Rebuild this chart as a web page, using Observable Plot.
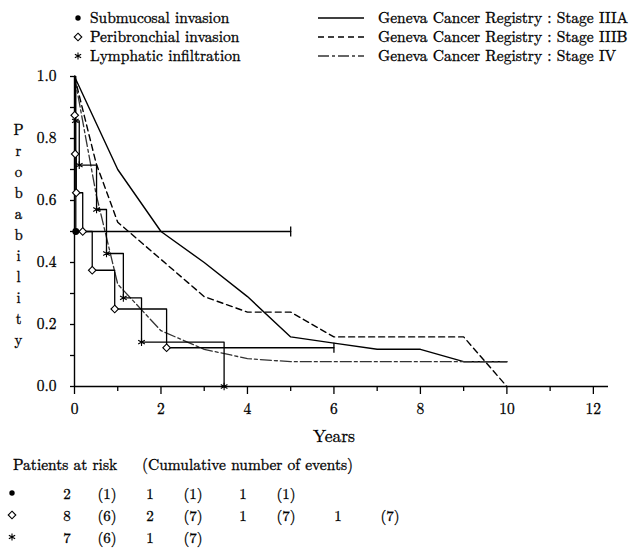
<!DOCTYPE html>
<html><head><meta charset="utf-8">
<script src="https://cdn.jsdelivr.net/npm/d3@7"></script>
<script src="https://cdn.jsdelivr.net/npm/@observablehq/plot@0.6"></script>
<style>
body{margin:0;background:#fff;font-family:"Latin Modern Roman","Liberation Serif",serif;color:#000;}
#wrap{position:relative;width:631px;height:548px;overflow:hidden;}
.t{position:absolute;white-space:nowrap;line-height:1;font-family:"Latin Modern Roman","Liberation Serif",serif;-webkit-text-stroke:0.3px #000;}
#chart{position:absolute;left:0;top:40px;}
#chart text{stroke:#000;stroke-width:0.3px;}
</style></head><body><div id="wrap"><div id="chart"></div></div>
<script>
// ---------- data ----------
const kmLabels = ["Submucosal invasion", "Peribronchial invasion", "Lymphatic infiltration"];
const genevaLabels = ["Geneva Cancer Registry : Stage IIIA", "Geneva Cancer Registry : Stage IIIB", "Geneva Cancer Registry : Stage IV"];

const iiiaYears = [0, 1, 2, 3, 4, 5, 6, 7, 8, 9, 10];
const iiiaProb  = [1.00, 0.70, 0.50, 0.40, 0.29, 0.16, 0.14, 0.12, 0.12, 0.08, 0.08];
const iiibYears = [0, 0.5, 1, 2, 3, 4, 5, 6, 7, 8, 9, 10];
const iiibProb  = [1.00, 0.72, 0.53, 0.41, 0.29, 0.24, 0.24, 0.16, 0.16, 0.16, 0.16, 0.00];
const ivYears   = [0, 0.5, 1, 2, 3, 4, 5, 6, 7, 8, 9, 10];
const ivProb    = [1.00, 0.62, 0.33, 0.18, 0.12, 0.09, 0.08, 0.08, 0.08, 0.08, 0.08, 0.08];

const subTimes   = [0, 0.03, 5];
const subSurv    = [1, 0.5, 0.5];
const periTimes  = [0, 0.005, 0.015, 0.04, 0.19, 0.41, 0.93, 2.13, 6];
const periSurv   = [1, 0.875, 0.75, 0.625, 0.5, 0.375, 0.25, 0.125, 0.125];
const lymphTimes = [0, 0.02, 0.11, 0.51, 0.74, 1.13, 1.55, 3.46];
const lymphSurv  = [1, 0.857, 0.714, 0.571, 0.429, 0.286, 0.143, 0];
const subCensor  = [5];
const periCensor = [6];

const yTicksMajor = [0, 0.2, 0.4, 0.6, 0.8, 1.0];
const yTicksMinor = [0.1, 0.3, 0.5, 0.7, 0.9];
const xTicksMajor = [0, 2, 4, 6, 8, 10, 12];
const xTicksMinor = [1, 3, 5, 7, 9, 11];
const yLabel = "Probability";
const xLabel = "Years";

const riskHeader = ["Patients at risk", "(Cumulative number of events)"];
const riskSub   = ["2", "(1)", "1", "(1)", "1", "(1)"];
const riskPeri  = ["8", "(6)", "2", "(7)", "1", "(7)", "1", "(7)"];
const riskLymph = ["7", "(6)", "1", "(7)"];

// ---------- helpers ----------
const FONT = "'Latin Modern Roman', 'Liberation Serif', serif";
const pts = (xs, ys) => xs.map((x, i) => ({x, y: ys[i]}));
const iiia = pts(iiiaYears, iiiaProb), iiib = pts(iiibYears, iiibProb), iv = pts(ivYears, ivProb);
const sub = pts(subTimes, subSurv), peri = pts(periTimes, periSurv), lymph = pts(lymphTimes, lymphSurv);
const subEv = sub.slice(1, 2);
const periEv = peri.slice(1, peri.length - 1);
const lymphEv = lymph.slice(1);
const censorPts = [
  ...subCensor.map(t => ({x: t, y: subSurv[subSurv.length - 1]})),
  ...periCensor.map(t => ({x: t, y: periSurv[periSurv.length - 1]}))
];
const censorSymbol = {draw(ctx, size) { const r = Math.sqrt(size / Math.PI); ctx.moveTo(0, -r); ctx.lineTo(0, r); }};

const DASH_B = "6,4";
const DASH_IV = "11,3,3,3";
const fmt = d3.format(".1f");

const chart = Plot.plot({
  width: 631, height: 413,
  marginTop: 36, marginBottom: 67, marginLeft: 74, marginRight: 23,
  style: {fontFamily: FONT, fontSize: "15.5px", color: "#000", background: "transparent"},
  x: {domain: [0, 12.35], axis: null},
  y: {domain: [0, 1], axis: null},
  marks: [
    Plot.axisY(yTicksMajor, {tickSize: 4, tickPadding: 14, tickFormat: fmt, label: null, fontSize: 15.5, strokeWidth: 1.3}),
    Plot.axisY(yTicksMinor, {tickSize: 4, fill: "none", label: null, strokeWidth: 1.3}),
    Plot.axisX(xTicksMajor, {tickSize: 8, tickPadding: 8, label: null, fontSize: 15.5, strokeWidth: 1.3}),
    Plot.axisX(xTicksMinor, {tickSize: 5, fill: "none", label: null, strokeWidth: 1.3}),
    Plot.ruleY([0], {strokeWidth: 1.4}),
    Plot.ruleX([0], {strokeWidth: 1.4}),
    Plot.line(iiia, {x: "x", y: "y", stroke: "#000", strokeWidth: 1.4}),
    Plot.line(iiib, {x: "x", y: "y", stroke: "#000", strokeWidth: 1.4, strokeDasharray: DASH_B}),
    Plot.line(iv, {x: "x", y: "y", stroke: "#333", strokeWidth: 1.3, strokeDasharray: DASH_IV}),
    Plot.line(sub, {x: "x", y: "y", curve: "step-after", stroke: "#000", strokeWidth: 1.3}),
    Plot.line(peri, {x: "x", y: "y", curve: "step-after", stroke: "#000", strokeWidth: 1.3}),
    Plot.line(lymph, {x: "x", y: "y", curve: "step-after", stroke: "#000", strokeWidth: 1.3}),
    Plot.dot(censorPts, {x: "x", y: "y", symbol: censorSymbol, r: 5, stroke: "#000", strokeWidth: 1.3, fill: "none"}),
    Plot.dot(subEv, {x: "x", y: "y", symbol: "circle", r: 2.7, fill: "#000", stroke: "#000"}),
    Plot.dot(periEv, {x: "x", y: "y", symbol: "diamond2", r: 3.4, fill: "#fff", stroke: "#000", strokeWidth: 1.1}),
    Plot.dot(lymphEv, {x: "x", y: "y", symbol: "asterisk", r: 3.6, stroke: "#000", strokeWidth: 1.1}),
    Plot.text([yLabel.split("").join("\n")], {frameAnchor: "left", dx: -56, dy: 2, textAnchor: "middle", lineHeight: 1.42, fontSize: 14.8, fill: "#000"}),
    Plot.text([xLabel], {x: () => 6, frameAnchor: "bottom", dy: 55, fontSize: 17.5, fill: "#000"})
  ]
});
document.getElementById("chart").appendChild(chart);

// ---------- legend (HTML above the chart) ----------
const wrap = document.getElementById("wrap");
const NS = "http://www.w3.org/2000/svg";
function addText(str, left, cy, size, anchor) {
  const s = document.createElement("span");
  s.className = "t"; s.textContent = str; s.style.fontSize = size + "px";
  s.style.left = left + "px"; s.style.top = (cy - size * 0.55) + "px";
  if (anchor === "middle") s.style.transform = "translateX(-50%)";
  wrap.appendChild(s); return s;
}
function addSvg(left, top, w, h, inner) {
  const svg = document.createElementNS(NS, "svg");
  svg.setAttribute("width", w); svg.setAttribute("height", h);
  svg.style.position = "absolute"; svg.style.left = left + "px"; svg.style.top = top + "px";
  svg.innerHTML = inner; wrap.appendChild(svg); return svg;
}
const markerSvg = [
  '<circle cx="6" cy="6" r="2.7" fill="#000"/>',
  '<path d="M6,2.2L9.8,6L6,9.8L2.2,6Z" fill="#fff" stroke="#000" stroke-width="1.1"/>',
  '<path d="' + d3.symbol(d3.symbolAsterisk, 3.4 * 3.4 * Math.PI)() + '" transform="translate(6,6)" stroke="#000" stroke-width="1.1" fill="none"/>'
];
const lineSvg = [
  '<line x1="0" y1="5" x2="46" y2="5" stroke="#000" stroke-width="1.5"/>',
  '<line x1="0" y1="5" x2="46" y2="5" stroke="#000" stroke-width="1.5" stroke-dasharray="' + DASH_B + '"/>',
  '<line x1="0" y1="5" x2="46" y2="5" stroke="#333" stroke-width="1.5" stroke-dasharray="' + DASH_IV + '"/>'
];
const rowY = [18, 37, 56];
kmLabels.forEach((lab, i) => {
  addSvg(72, rowY[i] - 6, 12, 12, markerSvg[i]);
  addText(lab, 90, rowY[i], 15.5);
});
genevaLabels.forEach((lab, i) => {
  addSvg(318, rowY[i] - 5, 46, 10, lineSvg[i]);
  addText(lab, 378, rowY[i], 15.5);
});

// ---------- risk table (HTML below the chart) ----------
addText(riskHeader[0], 13, 465, 15.5);
addText(riskHeader[1], 142, 465, 15.5);
const colX = [67, 107, 150, 193, 243, 286, 338, 390];
const tableRows = [riskSub, riskPeri, riskLymph];
const tableY = [493, 515, 537];
tableRows.forEach((row, r) => {
  addSvg(6, tableY[r] - 6, 12, 12, markerSvg[r]);
  row.forEach((v, c) => addText(v, colX[c], tableY[r], 15, "middle"));
});
</script>
</body></html>
